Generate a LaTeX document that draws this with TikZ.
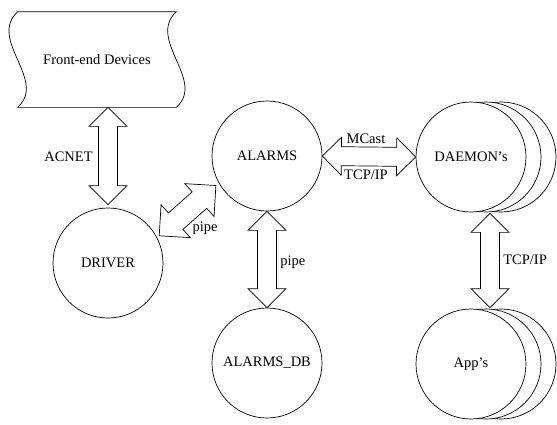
\documentclass[tikz,border=0pt]{standalone}
\usepackage{fontspec}
\setmainfont{Liberation Serif}
\usetikzlibrary{calc}
\tikzset{
  proc/.style={circle, draw, fill=white, minimum size=110pt, inner sep=0pt},
  lbl/.style={inner sep=1pt},
  fat/.style={draw, fill=white, line join=miter},
}
\newcommand{\fatarrow}[4]{%
  \draw[fat] (#3)
    -- ($(#3)!#1!(#4)!#1!90:(#4)$) -- ($(#3)!#1!(#4)!#2!90:(#4)$)
    -- ($(#4)!#1!(#3)!#2!-90:(#3)$) -- ($(#4)!#1!(#3)!#1!-90:(#3)$)
    -- (#4)
    -- ($(#4)!#1!(#3)!#1!90:(#3)$) -- ($(#4)!#1!(#3)!#2!90:(#3)$)
    -- ($(#3)!#1!(#4)!#2!-90:(#4)$) -- ($(#3)!#1!(#4)!#1!-90:(#4)$)
    -- cycle;}

\begin{document}
\begin{tikzpicture}[x=1pt, y=-1pt, line width=0.7pt, font=\fontsize{14.5}{17}\selectfont]
  \useasboundingbox (0,0) rectangle (557,424);
  \node[minimum width=158pt, minimum height=95pt, inner sep=0pt] (fe) at (97,59.5) {Front-end Devices};
  \draw (fe.north west) -- (fe.north east)
     .. controls ($(fe.north east)+(-30,28)$) and ($(fe.south east)+(30,-27)$) .. (fe.south east)
     -- (fe.south west)
     .. controls ($(fe.south west)+(30,-27)$) and ($(fe.north west)+(-30,28)$) .. (fe.north west) -- cycle;
  \node[proc] (driver) at (108,263) {DRIVER};
  \node[proc] (alarms) at (267,156) {ALARMS};
  \node[proc] (db) at (267,363) {ALARMS\_DB};
  \node[proc] (daemonc) at (501,157) {};
  \node[proc] (daemonb) at (486,157) {};
  \node[proc] (daemon) at (471,157) {DAEMON's};
  \node[proc] (appsc) at (501,364) {};
  \node[proc] (appsb) at (486,364) {};
  \node[proc] (apps) at (471,364) {App's};
  \coordinate (acnettop) at (fe.south -| driver.north);
  \coordinate (acnetbot) at ($(driver.north)+(0,-3)$);
  \fatarrow{19pt}{9.5pt}{acnettop}{acnetbot}
  \fatarrow{19pt}{9.5pt}{alarms.east}{daemon.west}
  \fatarrow{19pt}{9.5pt}{alarms.south}{db.north}
  \coordinate (tcptop) at ($(daemon.south)+(19,1)$);
  \coordinate (tcpbot) at ($(apps.north)+(19,-1)$);
  \fatarrow{19pt}{9.5pt}{tcptop}{tcpbot}
  \coordinate (pipelo) at ($(driver)+(-28:58)$);
  \coordinate (pipehi) at ($(alarms)+(150:59)$);
  \fatarrow{22pt}{11pt}{pipelo}{pipehi}
  \node[lbl, anchor=east] (acnet) at (94,157) {ACNET};
  \node[lbl, anchor=south] (mcast) at (366,145) {MCast};
  \node[lbl, anchor=north] (tcp) at (366,169) {TCP/IP};
  \node[lbl] (pipea) at (205,228) {pipe};
  \node[lbl, anchor=west] (pipeb) at (279,262) {pipe};
  \node[lbl, anchor=west] (tcpb) at (502,260) {TCP/IP};
\end{tikzpicture}
\end{document}
